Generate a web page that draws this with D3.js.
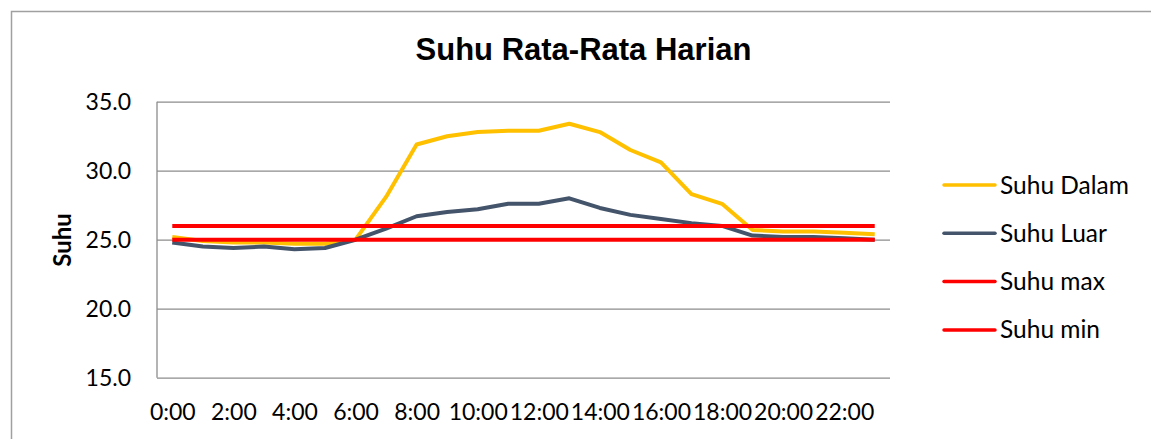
<!DOCTYPE html>
<html>
<head>
<meta charset="utf-8">
<script src="https://cdn.jsdelivr.net/npm/d3@7"></script>
<style>
  body { margin: 0; background: #fff; }
  svg { display: block; }
</style>
</head>
<body>
<svg id="chart" width="1151" height="439"></svg>
<script>
const hours = ["0:00","1:00","2:00","3:00","4:00","5:00","6:00","7:00","8:00","9:00","10:00","11:00",
  "12:00","13:00","14:00","15:00","16:00","17:00","18:00","19:00","20:00","21:00","22:00","23:00"];
const hourLabels = ["0:00","2:00","4:00","6:00","8:00","10:00","12:00","14:00","16:00","18:00","20:00","22:00"];
const suhuDalam = [25.2, 24.9, 24.8, 24.8, 24.7, 24.7, 25.0, 28.1, 31.9, 32.5, 32.8, 32.9,
  32.9, 33.4, 32.8, 31.5, 30.6, 28.3, 27.6, 25.7, 25.6, 25.6, 25.5, 25.4];
const suhuLuar = [24.8, 24.5, 24.4, 24.5, 24.3, 24.4, 25.0, 25.8, 26.7, 27.0, 27.2, 27.6,
  27.6, 28.0, 27.3, 26.8, 26.5, 26.2, 26.0, 25.3, 25.2, 25.2, 25.1, 25.0];
const suhuMax = [26, 26, 26, 26, 26, 26, 26, 26, 26, 26, 26, 26, 26, 26, 26, 26, 26, 26, 26, 26, 26, 26, 26, 26];
const suhuMin = [25, 25, 25, 25, 25, 25, 25, 25, 25, 25, 25, 25, 25, 25, 25, 25, 25, 25, 25, 25, 25, 25, 25, 25];
const yTicks = [15, 20, 25, 30, 35];

const series = [
  { name: "Suhu Dalam", values: suhuDalam, color: "#FFC000" },
  { name: "Suhu Luar", values: suhuLuar, color: "#44546A" },
  { name: "Suhu max", values: suhuMax, color: "#FF0000" },
  { name: "Suhu min", values: suhuMin, color: "#FF0000" }
];

const font = "Lato, 'Open Sans', sans-serif";
const svg = d3.select("#chart");
const plot = { left: 157, right: 890, top: 101.7, bottom: 377.7 };

// chart border
svg.append("rect")
  .attr("x", 11.5).attr("y", 11.5)
  .attr("width", 1300).attr("height", 600)
  .attr("fill", "none").attr("stroke", "#a0a0a0").attr("stroke-width", 1.5);

const x = d3.scalePoint().domain(hours).range([plot.left, plot.right]).padding(0.5);
const y = d3.scaleLinear().domain([15, 35]).range([plot.bottom, plot.top]);

// gridlines
svg.append("g")
  .attr("transform", `translate(${plot.left},0)`)
  .call(d3.axisLeft(y).tickValues(yTicks).tickSize(-(plot.right - plot.left)).tickFormat(""))
  .call(g => g.select(".domain").remove())
  .call(g => g.selectAll(".tick line").attr("stroke", "#8c8c8c").attr("stroke-width", 1.3));

// left axis line
svg.append("line")
  .attr("x1", plot.left).attr("x2", plot.left)
  .attr("y1", plot.top).attr("y2", plot.bottom)
  .attr("stroke", "#8c8c8c").attr("stroke-width", 1.3);

// y tick labels
svg.append("g")
  .attr("transform", `translate(131,0)`)
  .call(d3.axisLeft(y).tickValues(yTicks).tickSize(0).tickPadding(0).tickFormat(d3.format(".1f")))
  .call(g => g.select(".domain").remove())
  .call(g => g.selectAll("text")
    .attr("font-family", font).attr("font-size", 23).attr("fill", "#000")
    .attr("dy", null).attr("y", 8));

// x tick labels
svg.append("g")
  .attr("transform", `translate(0,${plot.bottom})`)
  .call(d3.axisBottom(x).tickValues(hourLabels).tickSize(0).tickPadding(0))
  .call(g => g.select(".domain").remove())
  .call(g => g.selectAll("text")
    .attr("font-family", font).attr("font-size", 23).attr("fill", "#000")
    .attr("dy", null).attr("y", 42));

// lines
const line = d3.line().x((d, i) => x(hours[i])).y(d => y(d));
svg.append("g")
  .selectAll("path")
  .data(series)
  .join("path")
  .attr("d", d => line(d.values))
  .attr("fill", "none")
  .attr("stroke", d => d.color)
  .attr("stroke-width", 4)
  .attr("stroke-linejoin", "round");

// title
svg.append("text")
  .attr("x", 583.5).attr("y", 60)
  .attr("text-anchor", "middle")
  .attr("font-family", "'Liberation Sans', Arial, sans-serif")
  .attr("font-weight", "bold").attr("font-size", 31)
  .text("Suhu Rata-Rata Harian");

// y axis title
svg.append("text")
  .attr("transform", "translate(71,240) rotate(-90)")
  .attr("text-anchor", "middle")
  .attr("font-family", font).attr("font-weight", "bold").attr("font-size", 24)
  .text("Suhu");

// legend
const legend = svg.append("g")
  .selectAll("g")
  .data(series)
  .join("g")
  .attr("transform", (d, i) => `translate(0,${185 + i * 48.3})`);

legend.append("line")
  .attr("x1", 944).attr("x2", 995)
  .attr("stroke", d => d.color)
  .attr("stroke-width", 3.5)
  .attr("stroke-linecap", "round");

legend.append("text")
  .attr("x", 1000).attr("y", 8.5)
  .attr("font-family", font).attr("font-size", 24.5)
  .text(d => d.name);
</script>
</body>
</html>
